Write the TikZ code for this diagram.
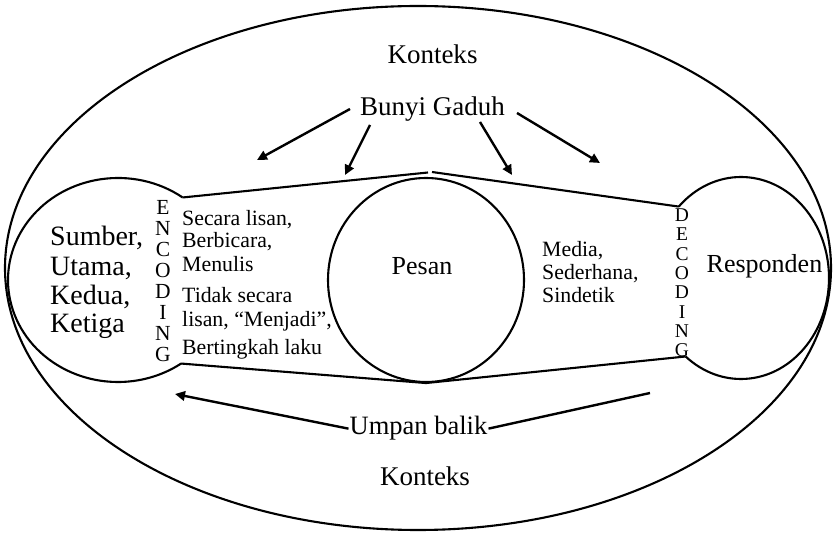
\documentclass[tikz,border=0pt]{standalone}
\usepackage{fontspec}
\setmainfont{Liberation Serif}
\usetikzlibrary{arrows.meta,shapes.geometric,calc}
\begin{document}
\begin{tikzpicture}[x=1pt,y=1pt,
  ln/.style={line width=2.1pt, black, line join=round},
  arr/.style={line width=2.4pt, black, -{Triangle[length=10pt,width=9.5pt]}},
  bigtxt/.style={font=\fontsize{27}{30}\selectfont, inner sep=0pt, anchor=base},
  srctxt/.style={font=\fontsize{28}{30}\selectfont, inner sep=0pt, anchor=base west},
  midtxt/.style={font=\fontsize{21.8}{24}\selectfont, inner sep=0pt, anchor=base west},
  lettxt/.style={font=\fontsize{21.5}{22}\selectfont, inner sep=0pt, anchor=base},
  dlettxt/.style={font=\fontsize{19.5}{20}\selectfont, inner sep=0pt, anchor=base},
]
\useasboundingbox (0,0) rectangle (834,535);
\fill[white] (0,0) rectangle (834,535);

% outer context ellipse
\draw[ln] (418,267) ellipse [x radius=413, y radius=262];

% centres of the end circles
\coordinate (sc) at (118,255);
\coordinate (rc) at (741,257);
\coordinate (sT) at ($(sc)+(54:110 and 102)$);
\coordinate (sB) at ($(sc)+(-55:110 and 102)$);
\coordinate (rT) at ($(rc)+(135:88 and 101)$);
\coordinate (rB) at ($(rc)+(231:88 and 101)$);
\coordinate (apL) at (428,362.5);
\coordinate (apR) at (432,363);

% source arc
\draw[ln] (sT) arc[start angle=54, end angle=305, x radius=110, y radius=102];
% responder arc
\draw[ln] (rT) arc[start angle=135, end angle=-129, x radius=88, y radius=101];

% message circle
\node[ellipse, draw, ln, minimum width=196pt, minimum height=204pt, inner sep=0pt] (pesanc) at (426,255) {};

% channel lines
\draw[ln] (sT) -- (apL);
\draw[ln] (apR) -- (rT);
\draw[ln] (sB) -- (pesanc.south) -- (rB);

% texts
\node[bigtxt] (k1) at (432.5,471) {Konteks};
\node[bigtxt] (bg) at (432.5,419) {Bunyi Gaduh};
\node[bigtxt] (k2) at (425,50) {Konteks};
\node[font=\fontsize{26}{28}\selectfont, inner sep=0pt, anchor=base] (pesan) at (422,260) {Pesan};
\node[font=\fontsize{26}{28}\selectfont, inner sep=0pt, anchor=base] (resp) at (764.5,262) {Responden};
\node[font=\fontsize{26.5}{28}\selectfont, inner sep=1pt, anchor=base] (ub) at (418.5,100) {Umpan balik};

\node[srctxt] (s1) at (50,289) {Sumber,};
\node[srctxt] (s2) at (50,259) {Utama,};
\node[srctxt] (s3) at (50,230) {Kedua,};
\node[srctxt] (s4) at (50,202) {Ketiga};

\foreach \l [count=\i from 0] in {E,N,C,O,D,I,N,G}
  \node[lettxt] (enc\i) at (163,{320-20.86*\i}) {\l};
\foreach \l [count=\i from 0] in {D,E,C,O,D,I,N,G}
  \node[dlettxt] (dec\i) at (682,{313.3-19.3*\i}) {\l};

\node[midtxt] (e1) at (182,309) {Secara lisan,};
\node[midtxt] (e2) at (182,287) {Berbicara,};
\node[midtxt] (e3) at (182,263) {Menulis};
\node[midtxt] (e4) at (182,232) {Tidak secara};
\node[midtxt] (e5) at (182,208) {lisan, “Menjadi”,};
\node[midtxt] (e6) at (182,180) {Bertingkah laku};

\node[midtxt] (m1) at (542,278) {Media,};
\node[midtxt] (m2) at (542,255) {Sederhana,};
\node[midtxt] (m3) at (542,232) {Sindetik};

% noise arrows
\coordinate (n1s) at (350,426); \coordinate (n1e) at (257,375);
\coordinate (n2s) at (370,410); \coordinate (n2e) at (345,360);
\coordinate (n3s) at (480,413); \coordinate (n3e) at (512,360);
\coordinate (n4s) at (517,422); \coordinate (n4e) at (600,372);
\draw[arr] (n1s) -- (n1e);
\draw[arr] (n2s) -- (n2e);
\draw[arr] (n3s) -- (n3e);
\draw[arr] (n4s) -- (n4e);

% feedback
\coordinate (fbL) at (175,141);
\coordinate (fbR) at (650,142);
\draw[arr] (ub.west) -- (fbL);
\draw[line width=2.4pt] (ub.east) -- (fbR);
\end{tikzpicture}
\end{document}
